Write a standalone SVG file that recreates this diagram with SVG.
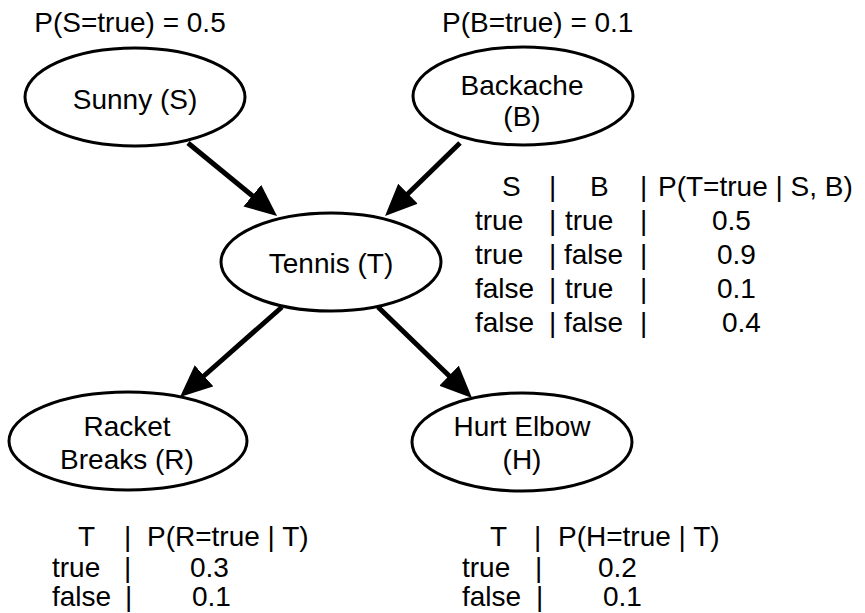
<svg xmlns="http://www.w3.org/2000/svg" width="865" height="613" viewBox="0 0 865 613">
<style>
text{font-family:"Liberation Sans",Arial,Helvetica,sans-serif;font-size:28px;fill:#000}
.c{text-anchor:middle}
ellipse{fill:#fff;stroke:#000;stroke-width:3}
.e{stroke:#000;stroke-width:5;fill:none;marker-end:url(#ah)}
</style>
<defs>
<marker id="ah" markerUnits="userSpaceOnUse" markerWidth="34" markerHeight="30" refX="4" refY="14" orient="auto" viewBox="0 0 34 30">
<path d="M0,0 L32,14 L0,28 z" fill="#000"/>
</marker>
</defs>
<rect width="865" height="613" fill="#fff"/>
<g id="connectors">
<line class="e" x1="188" y1="143" x2="255.4" y2="198.2"/>
<line class="e" x1="460" y1="143" x2="405.1" y2="196.5"/>
<line class="e" x1="282" y1="307" x2="201" y2="378.5"/>
<line class="e" x1="378" y1="307" x2="451.9" y2="378.5"/>
</g>
<g id="sunny">
<ellipse cx="135" cy="97" rx="110" ry="49"/>
<text class="c" x="135" y="109">Sunny (S)</text>
</g>
<g id="backache">
<ellipse cx="523" cy="96" rx="110" ry="49"/>
<text class="c" x="522" y="95">Backache</text>
<text class="c" x="522" y="126">(B)</text>
</g>
<g id="tennis">
<ellipse cx="331" cy="262" rx="110" ry="49"/>
<text class="c" x="331" y="273">Tennis (T)</text>
</g>
<g id="racket">
<ellipse cx="128" cy="441" rx="119" ry="49"/>
<text class="c" x="127" y="436">Racket</text>
<text class="c" x="127" y="469">Breaks (R)</text>
</g>
<g id="hurt">
<ellipse cx="522" cy="442" rx="110" ry="49"/>
<text class="c" x="522" y="436">Hurt Elbow</text>
<text class="c" x="522" y="469">(H)</text>
</g>
<g id="prior-s">
<text class="c" x="130" y="32">P(S=true) = 0.5</text>
</g>
<g id="prior-b">
<text x="442" y="32">P(B=true) = 0.1</text>
</g>
<g id="cpt-t">
<text x="502" y="196">S</text><text x="549" y="196">|</text><text x="590" y="196">B</text><text x="640" y="196">|</text><text x="658" y="196">P(T=true | S, B)</text>
<text x="475" y="230">true</text><text x="549" y="230">|</text><text x="565" y="230">true</text><text x="640" y="230">|</text><text x="712" y="230">0.5</text>
<text x="475" y="264">true</text><text x="549" y="264">|</text><text x="564" y="264">false</text><text x="640" y="264">|</text><text x="717" y="264">0.9</text>
<text x="475" y="298">false</text><text x="549" y="298">|</text><text x="565" y="298">true</text><text x="640" y="298">|</text><text x="717" y="298">0.1</text>
<text x="475" y="332">false</text><text x="549" y="332">|</text><text x="564" y="332">false</text><text x="640" y="332">|</text><text x="722" y="332">0.4</text>
</g>
<g id="cpt-r">
<text x="78" y="546">T</text><text x="124" y="546">|</text><text x="147" y="546">P(R=true | T)</text>
<text x="52" y="577">true</text><text x="124" y="577">|</text><text x="190" y="577">0.3</text>
<text x="52" y="606">false</text><text x="125" y="606">|</text><text x="192" y="606">0.1</text>
</g>
<g id="cpt-h">
<text x="490" y="546">T</text><text x="534" y="546">|</text><text x="558" y="546">P(H=true | T)</text>
<text x="462" y="577">true</text><text x="535" y="577">|</text><text x="598" y="577">0.2</text>
<text x="462" y="606">false</text><text x="536" y="606">|</text><text x="603" y="606">0.1</text>
</g>
</svg>
